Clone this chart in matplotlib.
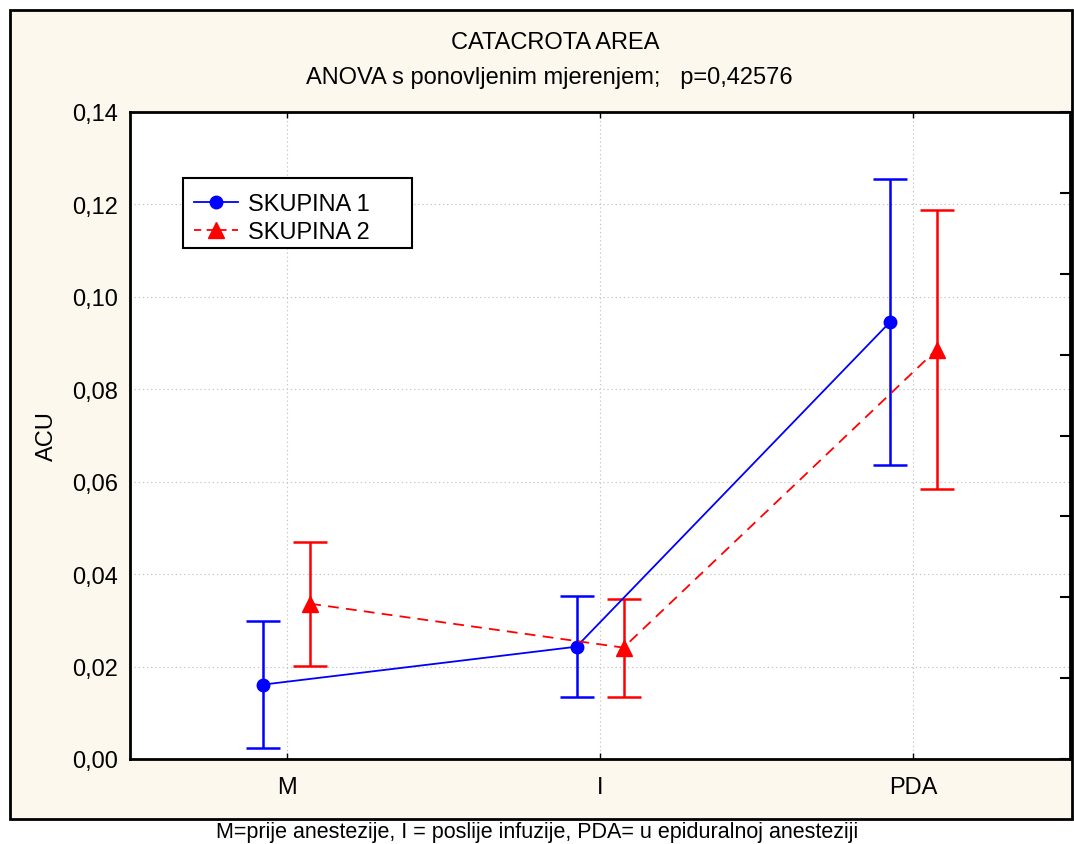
import matplotlib
matplotlib.use("Agg")
import matplotlib.pyplot as plt
import numpy as np
from matplotlib.patches import Rectangle
from matplotlib.lines import Line2D

plt.rcParams["font.family"] = ["Liberation Sans", "DejaVu Sans"]

CATEGORIES = ["M", "I", "PDA"]
GROUP1_MEAN = [0.0161, 0.0243, 0.0945]
GROUP1_ERR = [0.0137, 0.0109, 0.0309]
GROUP2_MEAN = [0.0336, 0.0241, 0.0886]
GROUP2_ERR = [0.0134, 0.0106, 0.0301]
Y_TICKS = [0.00, 0.02, 0.04, 0.06, 0.08, 0.10, 0.12, 0.14]

TITLE = "CATACROTA AREA"
SUBTITLE = "ANOVA s ponovljenim mjerenjem;   p=0,42576"
CAPTION = "M=prije anestezije, I = poslije infuzije, PDA= u epiduralnoj anesteziji"

BG = "#fdf8ed"
BLUE = "#0000ff"
RED = "#ff0000"

fig = plt.figure(figsize=(10.74, 8.45), dpi=100)
fig.patch.set_facecolor("white")
fig.patches.append(Rectangle((10 / 1074, 25 / 845), 1062 / 1074, 809 / 845,
                             transform=fig.transFigure, facecolor=BG,
                             edgecolor="black", linewidth=2, zorder=-5))

ax = fig.add_axes([130 / 1074, 85 / 845, 940 / 1074, 647 / 845])
ax.set_facecolor("white")

x = np.arange(len(CATEGORIES))
off = 0.075

ax.errorbar(x - off, GROUP1_MEAN, yerr=GROUP1_ERR, color=BLUE, lw=1.3,
            marker="o", ms=9, elinewidth=1.8, capsize=12, capthick=1.8,
            zorder=3)
ax.errorbar(x + off, GROUP2_MEAN, yerr=GROUP2_ERR, color=RED, lw=1.3,
            ls=(0, (6, 4)), marker="^", ms=11, elinewidth=1.8, capsize=12,
            capthick=1.8, zorder=3)

ax.set_xlim(-0.5, 2.5)
ax.set_ylim(0, 0.14)
ax.set_yticks(Y_TICKS)
ax.set_yticklabels([f"{v:.2f}".replace(".", ",") for v in Y_TICKS])
ax.set_xticks(x)
ax.set_xticklabels(CATEGORIES)
ax.grid(True, color="#c4c4c4", linestyle=(0, (1.2, 2.5)), linewidth=0.8)
ax.set_axisbelow(True)
for sp in ax.spines.values():
    sp.set_linewidth(2)

# right-hand inner ticks (8 divisions, no labels)
ax2 = ax.twinx()
ax2.set_ylim(0, 0.14)
ax2.set_yticks(np.linspace(0, 0.14, 9))
ax2.tick_params(axis="y", direction="in", length=7, width=1.5,
                labelright=False, left=False)
for sp in ax2.spines.values():
    sp.set_visible(False)

ax.tick_params(axis="y", left=False, right=False, labelleft=True,
               labelsize=17, pad=5)
ax.tick_params(axis="x", direction="in", top=True, bottom=True, length=4,
               width=1, labelsize=17, pad=12)

ax.set_ylabel("ACU", fontsize=17, labelpad=10)

# legend: frame drawn separately so it matches the wide box
ax.add_patch(Rectangle((0.0564, 0.7898), 0.2436, 0.1082, transform=ax.transAxes,
                       facecolor="white", edgecolor="black", linewidth=1.5,
                       zorder=4))
handles = [
    Line2D([], [], color=BLUE, lw=1.3, marker="o", ms=9),
    Line2D([], [], color=RED, lw=1.3, ls=(0, (4, 3)), marker="^", ms=11),
]
leg = ax.legend(handles, ["SKUPINA 1", "SKUPINA 2"],
                loc="center left", bbox_to_anchor=(0.068, 0.8355),
                fontsize=17, frameon=False, borderpad=0,
                handlelength=1.85, handletextpad=0.45, labelspacing=0.25,
                borderaxespad=0)
leg.set_zorder(5)

fig.text(555 / 1074, 1 - 43 / 845, TITLE, ha="center", va="center", fontsize=17)
fig.text(549 / 1074, 1 - 78 / 845, SUBTITLE, ha="center", va="center", fontsize=17)
fig.text(537 / 1074, 1 - 833 / 845, CAPTION, ha="center", va="center", fontsize=15.5)

fig.savefig("out.png", dpi=100)
